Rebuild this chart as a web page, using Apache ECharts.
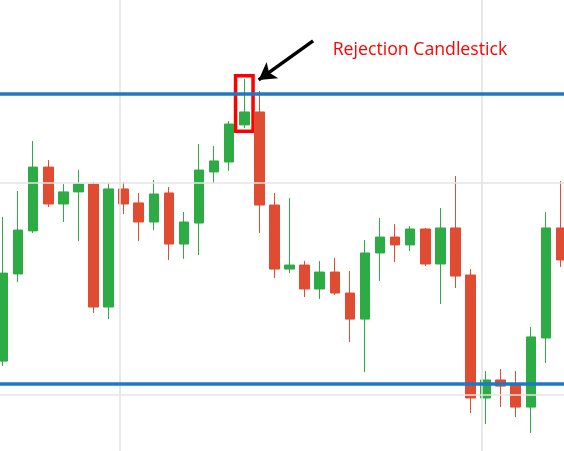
<!DOCTYPE html>
<html>
<head>
<meta charset="utf-8">
<script src="https://cdn.jsdelivr.net/npm/echarts@6/dist/echarts.min.js"></script>
<style>
  html, body { margin: 0; padding: 0; background: #fff; }
  #chart { width: 564px; height: 451px; }
</style>
</head>
<body>
<div id="chart"></div>
<script>
// candles (arbitrary price units)
const opens  = [116.0, 157.1, 177.4, 207.5, 190.1, 195.8, 199.5, 141.5, 197.2, 190.6, 181.6, 195.3, 171.2, 181.1, 205.2, 209.9, 227.4, 233.5, 189.6, 159.4, 161.3, 150.0, 158.0, 148.1, 135.8, 167.0, 174.5, 170.8, 178.3, 161.8, 178.8, 156.6, 98.6, 107.1, 104.7, 94.3, 126.9, 178.8];
const closes = [157.5, 177.8, 207.5, 190.1, 195.8, 199.5, 141.5, 197.2, 190.1, 181.6, 194.8, 171.2, 181.6, 206.1, 210.4, 227.8, 233.5, 189.6, 159.4, 161.3, 150.0, 158.0, 148.1, 135.8, 167.0, 174.5, 170.8, 178.3, 161.8, 178.8, 156.1, 98.6, 107.1, 104.2, 94.3, 127.4, 178.8, 163.7];
const lows   = [113.7, 153.3, 176.4, 188.7, 181.6, 172.6, 138.7, 135.8, 185.4, 172.6, 177.8, 163.7, 164.2, 166.0, 200.0, 205.7, 225.9, 176.4, 155.2, 157.5, 146.2, 145.3, 147.2, 125.0, 110.8, 153.8, 162.7, 167.9, 160.8, 142.9, 150.5, 91.5, 86.3, 94.3, 89.6, 82.1, 115.1, 160.4];
const highs  = [184.0, 196.2, 219.8, 210.8, 199.5, 206.1, 200.5, 200.0, 200.5, 195.3, 201.4, 198.1, 186.3, 218.4, 217.5, 229.2, 249.1, 243.4, 195.3, 192.9, 163.2, 163.2, 164.6, 158.5, 173.1, 183.5, 180.7, 179.7, 178.8, 188.2, 203.3, 159.4, 111.3, 112.3, 111.3, 132.1, 186.3, 200.9];

// background grid and the two horizontal levels
const gridX = [7.71, 31.77];
const gridY = [100, 200];
const levels = [241.9, 105.5];

// annotation
const rejectionIndex = 16;
const labelText = "Rejection Candlestick";
const arrowFrom = [20.56, 267.0];
const arrowTo = [16.95, 248.6];
const labelAt = [21.86, 262.7];

const candles = opens.map((o, i) => [i, o, closes[i], lows[i], highs[i]]);

const chart = echarts.init(document.getElementById("chart"));

chart.setOption({
  animation: false,
  grid: { left: 0, right: 0, top: 0, bottom: 0 },
  xAxis: {
    type: "value",
    min: -0.2,
    max: 37.2,
    show: false,
  },
  yAxis: {
    type: "value",
    min: 73.6,
    max: 286.3,
    show: false,
  },
  series: [
    {
      // just carries the light grid lines, under the candles
      type: "line",
      data: [],
      z: 1,
      silent: true,
      markLine: {
        silent: true,
        symbol: "none",
        label: { show: false },
        lineStyle: { color: "#e4e4e4", width: 1.6, type: "solid" },
        data: [
          ...gridX.map((x) => ({ xAxis: x })),
          ...gridY.map((y) => ({ yAxis: y })),
        ],
      },
    },
    {
      type: "candlestick",
      z: 2,
      barWidth: 10,
      encode: { x: 0, y: [1, 2, 3, 4] },
      itemStyle: {
        color: "#2dab45",
        color0: "#df4c32",
        borderColor: "#2dab45",
        borderColor0: "#df4c32",
        borderWidth: 1,
      },
      data: candles,
      markLine: {
        silent: true,
        symbol: "none",
        label: { show: false },
        lineStyle: { color: "#1e78c2", width: 3.5, type: "solid" },
        data: levels.map((y) => ({ yAxis: y })),
      },
      markArea: {
        silent: true,
        itemStyle: {
          color: "rgba(0,0,0,0)",
          borderColor: "#ff0000",
          borderWidth: 3.5,
        },
        data: [
          [
            { coord: [rejectionIndex - 0.58, highs[rejectionIndex] + 1.5] },
            { coord: [rejectionIndex + 0.58, lows[rejectionIndex] - 1.5] },
          ],
        ],
      },
    },
    {
      // arrow + label
      type: "line",
      data: [],
      z: 5,
      silent: true,
      markLine: {
        silent: true,
        symbol: ["none", "arrow"],
        symbolSize: [15, 17],
        label: { show: false },
        lineStyle: { color: "#000", width: 3.5, type: "solid" },
        data: [[{ coord: arrowFrom }, { coord: arrowTo }]],
      },
      markPoint: {
        silent: true,
        symbol: "rect",
        symbolSize: 0,
        label: {
          show: true,
          position: "right",
          distance: 0,
          formatter: labelText,
          color: "#ff0000",
          fontSize: 17.7,
          fontFamily: "Open Sans",
        },
        data: [{ coord: labelAt }],
      },
    },
  ],
});
</script>
</body>
</html>
